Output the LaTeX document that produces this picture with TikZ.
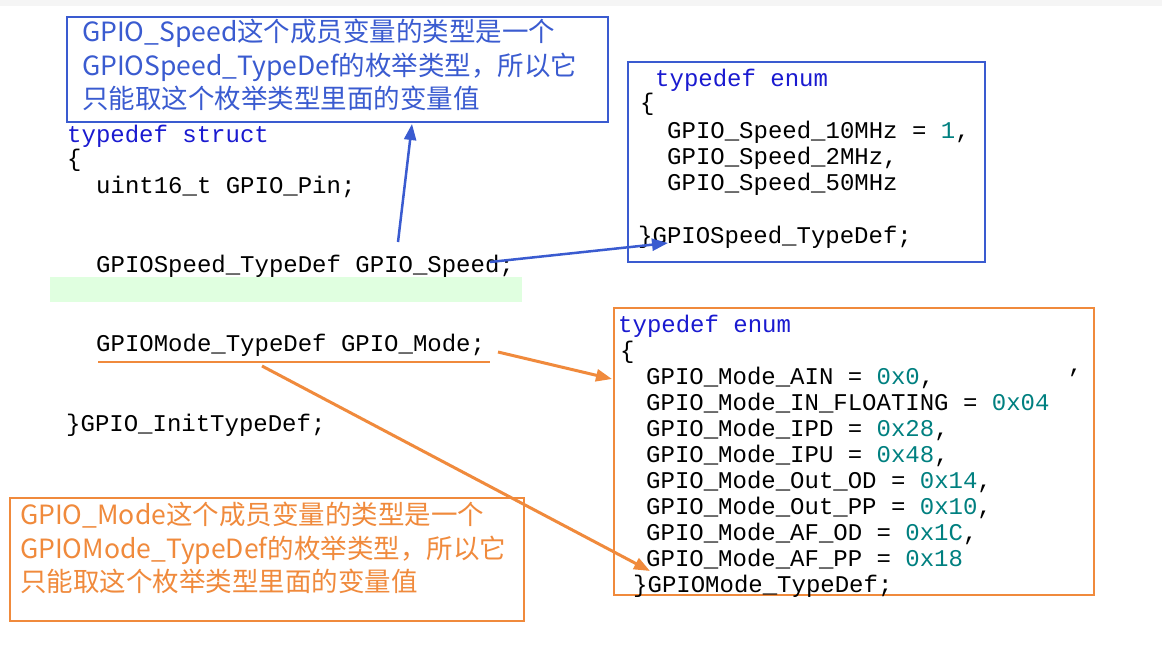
\documentclass[tikz,border=0pt]{standalone}
\usepackage{fontspec}
\setmonofont{Liberation Mono}
\newfontfamily\cjk{Noto Sans CJK SC}
\usetikzlibrary{arrows.meta}
\definecolor{kw}{HTML}{1A1AD0}
\definecolor{num}{HTML}{008080}
\definecolor{bbox}{HTML}{3A5BD0}
\definecolor{obox}{HTML}{F08A3C}
\begin{document}
\begin{tikzpicture}[x=1pt,y=-1pt,
  code/.style={anchor=base west,inner sep=0pt,font=\ttfamily\fontsize{24}{26}\selectfont},
  note/.style={anchor=north west,inner sep=0pt,align=left,font=\cjk\fontsize{26.5}{33.5}\selectfont},
  arr/.style={line width=3pt,-{Triangle[length=16pt,width=12pt]}}]
\useasboundingbox (0,0) rectangle (1162,659);
\fill[white] (0,0) rectangle (1162,659);
\fill[gray!8] (0,0) rectangle (1162,6);
\fill[green!12] (50,277) rectangle (522,302);
% notes
\draw[bbox,line width=2pt] (67,17) rectangle (608,122);
\node[note,text=bbox] (n1) at (82,19) {GPIO\_Speed这个成员变量的类型是一个\\GPIOSpeed\_TypeDef的枚举类型，所以它\\只能取这个枚举类型里面的变量值};
\draw[obox,line width=2pt] (10,498) rectangle (524,621);
\node[note,text=obox] (n2) at (20,502) {GPIO\_Mode这个成员变量的类型是一个\\GPIOMode\_TypeDef的枚举类型，所以它\\只能取这个枚举类型里面的变量值};
% struct
\node[code,text=kw] (s0) at (67,142) {typedef struct};
\node[code] (s1) at (67,166) {\{};
\node[code] (s2) at (96,193) {uint16\_t GPIO\_Pin;};
\node[code] (s3) at (96,272) {GPIOSpeed\_TypeDef GPIO\_Speed;};
\node[code] (s4) at (96,351) {GPIOMode\_TypeDef GPIO\_Mode;};
\node[code] (s5) at (66,431) {\}GPIO\_InitTypeDef;};
\draw[obox,line width=1.5pt] (98,362) -- (490,362);
% speed enum
\draw[bbox,line width=2pt] (628,62) rectangle (985,262);
\node[code,text=kw] (e0) at (655,86) {typedef enum};
\node[code] (e1) at (640,110) {\{};
\node[code] (e2) at (667,138) {GPIO\_Speed\_10MHz = \textcolor{num}{1},};
\node[code] (e3) at (667,164) {GPIO\_Speed\_2MHz,};
\node[code] (e4) at (667,190) {GPIO\_Speed\_50MHz};
\node[code] (e5) at (638,243) {\}GPIOSpeed\_TypeDef;};
% mode enum
\draw[obox,line width=2pt] (614,308) rectangle (1094,595);
\node[code,text=kw] (m0) at (618,332) {typedef enum};
\node[code] (m1) at (620,358) {\{};
\node[code] (m2) at (646,384) {GPIO\_Mode\_AIN = \textcolor{num}{0x0},};
\node[code] (m3) at (646,410) {GPIO\_Mode\_IN\_FLOATING = \textcolor{num}{0x04}};
\node[code] (m4) at (646,436) {GPIO\_Mode\_IPD = \textcolor{num}{0x28},};
\node[code] (m5) at (646,462) {GPIO\_Mode\_IPU = \textcolor{num}{0x48},};
\node[code] (m6) at (646,488) {GPIO\_Mode\_Out\_OD = \textcolor{num}{0x14},};
\node[code] (m7) at (646,514) {GPIO\_Mode\_Out\_PP = \textcolor{num}{0x10},};
\node[code] (m8) at (646,540) {GPIO\_Mode\_AF\_OD = \textcolor{num}{0x1C},};
\node[code] (m9) at (646,566) {GPIO\_Mode\_AF\_PP = \textcolor{num}{0x18}};
\node[code] (mc) at (1068,372) {,};
\node[code] (m10) at (633,592) {\}GPIOMode\_TypeDef;};
% arrows
\coordinate (a1s) at (398,242); \coordinate (a1e) at (412,124);
\coordinate (a2s) at (490,262); \coordinate (a2e) at (668,243);
\coordinate (a3s) at (498,352); \coordinate (a3e) at (612,379);
\coordinate (a4s) at (262,366); \coordinate (a4e) at (650,571);
\draw[arr,bbox,line width=2.5pt] (a1s) -- (a1e);
\draw[arr,bbox,line width=2.5pt] (a2s) -- (a2e);
\draw[arr,obox] (a3s) -- (a3e);
\draw[arr,obox] (a4s) -- (a4e);
\end{tikzpicture}
\end{document}
